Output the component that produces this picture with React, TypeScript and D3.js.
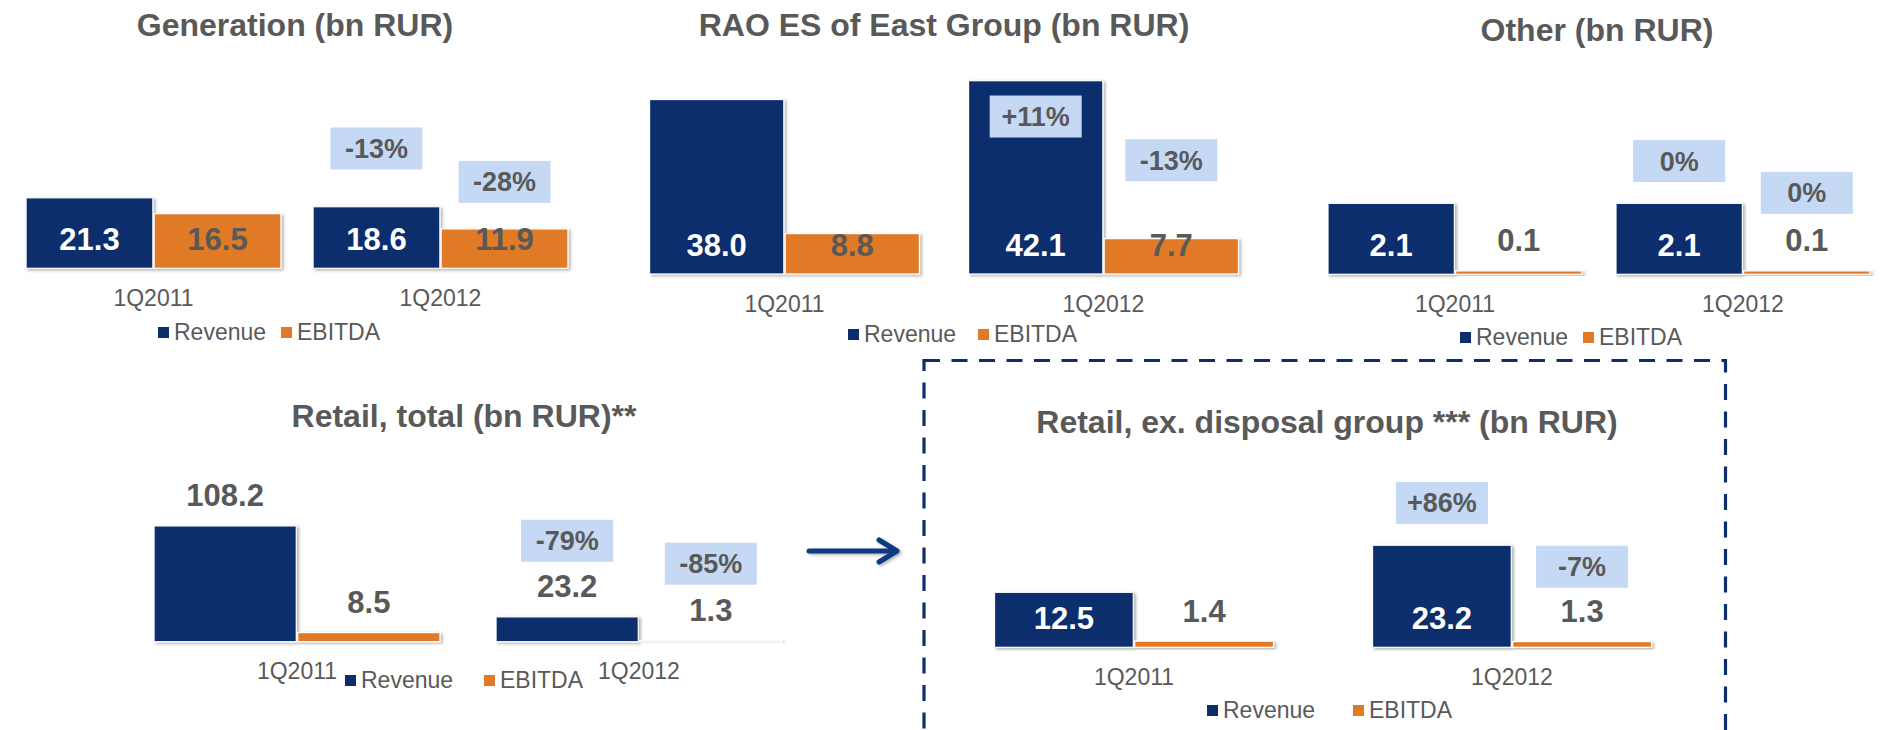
import * as d3 from 'd3';

// categories and series shared by all five panels
const categories = ['1Q2011', '1Q2012'];
const seriesNames = ['Revenue', 'EBITDA'];

// values, bn RUR
const generationRevenue = [21.3, 18.6];
const generationEbitda = [16.5, 11.9];
const generationChange = ['-13%', '-28%'];
const generationChangeAt = [36.2, 26.1];

const raoRevenue = [38.0, 42.1];
const raoEbitda = [8.8, 7.7];
const raoChange = ['+11%', '-13%'];
const raoChangeAt = [34.3, 24.8];

const otherRevenue = [2.1, 2.1];
const otherEbitda = [0.1, 0.1];
const otherChange = ['0%', '0%'];
const otherChangeAt = [3.35, 2.41];

const retailRevenue = [108.2, 23.2];
const retailEbitda = [8.5, 1.3];
const retailChange = ['-79%', '-85%'];
const retailChangeAt = [94.3, 72.9];

const retailExRevenue = [12.5, 23.2];
const retailExEbitda = [1.4, 1.3];
const retailExChange = ['+86%', '-7%'];
const retailExChangeAt = [32.8, 18.3];

const NAVY = '#0c2e6c';
const ORANGE = '#e07a27';
const BOX = '#c5d9f5';
const GREY = '#595959';
const FONT = '"Liberation Sans", Arial, sans-serif';

type LabelPos = 'in' | 'out';

interface PanelDef {
  title: string;
  revenue: number[];
  ebitda: number[];
  change: string[];
  changeAt: number[];
  labelPos: [LabelPos, LabelPos];
  // layout
  x0: number;
  x1: number;
  axisY: number;
  top: number;
  yMax: number;
  groupFrac: number;
  titleX: number;
  titleY: number;
  legendX: number;
  legendGap: number;
  legendY: number;
}

const panels: PanelDef[] = [
  {
    title: 'Generation (bn RUR)',
    revenue: generationRevenue,
    ebitda: generationEbitda,
    change: generationChange,
    changeAt: generationChangeAt,
    labelPos: ['in', 'in'],
    x0: 10, x1: 584, axisY: 268.3, top: 102.8, yMax: 50, groupFrac: 0.888,
    titleX: 295, titleY: 36,
    legendX: 158, legendGap: 123, legendY: 340,
  },
  {
    title: 'RAO ES of East Group (bn RUR)',
    revenue: raoRevenue,
    ebitda: raoEbitda,
    change: raoChange,
    changeAt: raoChangeAt,
    labelPos: ['in', 'in'],
    x0: 625, x1: 1263, axisY: 274, top: 67.4, yMax: 45, groupFrac: 0.846,
    titleX: 944, titleY: 36,
    legendX: 848, legendGap: 130, legendY: 342,
  },
  {
    title: 'Other (bn RUR)',
    revenue: otherRevenue,
    ebitda: otherEbitda,
    change: otherChange,
    changeAt: otherChangeAt,
    labelPos: ['in', 'out'],
    x0: 1311, x1: 1887, axisY: 274.3, top: 139.1, yMax: 4, groupFrac: 0.882,
    titleX: 1597, titleY: 41,
    legendX: 1460, legendGap: 123, legendY: 345,
  },
  {
    title: 'Retail, total (bn RUR)**',
    revenue: retailRevenue,
    ebitda: retailEbitda,
    change: retailChange,
    changeAt: retailChangeAt,
    labelPos: ['out', 'out'],
    x0: 126, x1: 810, axisY: 641.7, top: 513.3, yMax: 120, groupFrac: 0.836,
    titleX: 464, titleY: 427,
    legendX: 345, legendGap: 139, legendY: 688,
  },
  {
    title: 'Retail, ex. disposal group *** (bn RUR)',
    revenue: retailExRevenue,
    ebitda: retailExEbitda,
    change: retailExChange,
    changeAt: retailExChangeAt,
    labelPos: ['in', 'out'],
    x0: 945, x1: 1701, axisY: 647.3, top: 515.3, yMax: 30, groupFrac: 0.738,
    titleX: 1327, titleY: 433,
    legendX: 1207, legendGap: 146, legendY: 718,
  },
];

const colors = [NAVY, ORANGE];

function Panel({ p }: { p: PanelDef }) {
  const x = d3.scaleBand<string>().domain(categories).range([p.x0, p.x1]).padding(0);
  const y = d3.scaleLinear().domain([0, p.yMax]).range([p.axisY, p.top]);
  const groupW = x.bandwidth() * p.groupFrac;
  const inner = d3.scaleBand<string>().domain(seriesNames).range([0, groupW]).paddingInner(0.01);
  const series = [p.revenue, p.ebitda];

  const barX = (ci: number, si: number) =>
    (x(categories[ci]) ?? 0) + (x.bandwidth() - groupW) / 2 + (inner(seriesNames[si]) ?? 0);

  return (
    <g>
      <text
        x={p.titleX}
        y={p.titleY}
        textAnchor="middle"
        fontSize={32}
        fontWeight="bold"
        fill={GREY}
      >
        {p.title}
      </text>

      {series.map((vals, si) =>
        vals.map((v, ci) => (
          <rect
            key={`b${si}${ci}`}
            x={barX(ci, si)}
            y={y(v)}
            width={inner.bandwidth()}
            height={p.axisY - y(v)}
            fill={colors[si]}
            stroke="#fff"
            strokeWidth={1.2}
            filter="url(#barShadow)"
          />
        )),
      )}

      <line
        x1={p.x0}
        x2={p.x1}
        y1={p.axisY}
        y2={p.axisY}
        stroke="#a3a3a3"
        strokeWidth={2.2}
        filter="url(#barShadow)"
      />

      {series.map((vals, si) =>
        vals.map((v, ci) => {
          const inside = p.labelPos[si] === 'in';
          const ly = inside ? p.axisY - 18.5 : y(v) - 19.5;
          return (
            <text
              key={`l${si}${ci}`}
              x={barX(ci, si) + inner.bandwidth() / 2}
              y={ly}
              textAnchor="middle"
              fontSize={31}
              fontWeight="bold"
              fill={inside && si === 0 ? '#fff' : GREY}
            >
              {v.toFixed(1)}
            </text>
          );
        }),
      )}

      {p.change.map((c, si) => {
        const cx = barX(1, si) + inner.bandwidth() / 2;
        const cy = y(p.changeAt[si]);
        return (
          <g key={`c${si}`}>
            <rect x={cx - 46} y={cy - 21} width={92} height={42} fill={BOX} />
            <text x={cx} y={cy + 9.5} textAnchor="middle" fontSize={27} fontWeight="bold" fill={GREY}>
              {c}
            </text>
          </g>
        );
      })}

      {categories.map((c) => (
        <text
          key={c}
          x={(x(c) ?? 0) + x.bandwidth() / 2}
          y={p.axisY + 37.5}
          textAnchor="middle"
          fontSize={23}
          fill={GREY}
        >
          {c}
        </text>
      ))}

      {seriesNames.map((s, si) => (
        <g key={s} transform={`translate(${p.legendX + si * p.legendGap},${p.legendY})`}>
          <rect x={0} y={-13} width={11} height={11} fill={colors[si]} />
          <text x={16} y={0} fontSize={23} fill={GREY}>
            {s}
          </text>
        </g>
      ))}
    </g>
  );
}

export default function App() {
  return (
    <svg
      width={1883}
      height={730}
      viewBox="0 0 1883 730"
      style={{ position: 'absolute', left: 0, top: 0, display: 'block', background: '#fff' }}
      fontFamily={FONT}
    >
      <defs>
        <filter id="barShadow" x="-10%" y="-10%" width="130%" height="140%">
          <feDropShadow dx={2} dy={1.5} stdDeviation={1.5} floodColor="#000" floodOpacity={0.3} />
        </filter>
      </defs>

      {panels.map((p) => (
        <Panel key={p.title} p={p} />
      ))}

      {/* arrow from total retail to retail ex. disposal group */}
      <g stroke="#0d3a80" strokeWidth={5} strokeLinecap="round" fill="none" filter="url(#barShadow)">
        <line x1={809} y1={551} x2={896} y2={551} />
        <polyline points="879,540 897,551 879,562" strokeLinejoin="round" />
      </g>

      {/* dashed frame */}
      <rect
        x={924}
        y={360.5}
        width={801.5}
        height={400}
        fill="none"
        stroke={NAVY}
        strokeWidth={3.2}
        strokeDasharray="16 11.5"
      />
    </svg>
  );
}
